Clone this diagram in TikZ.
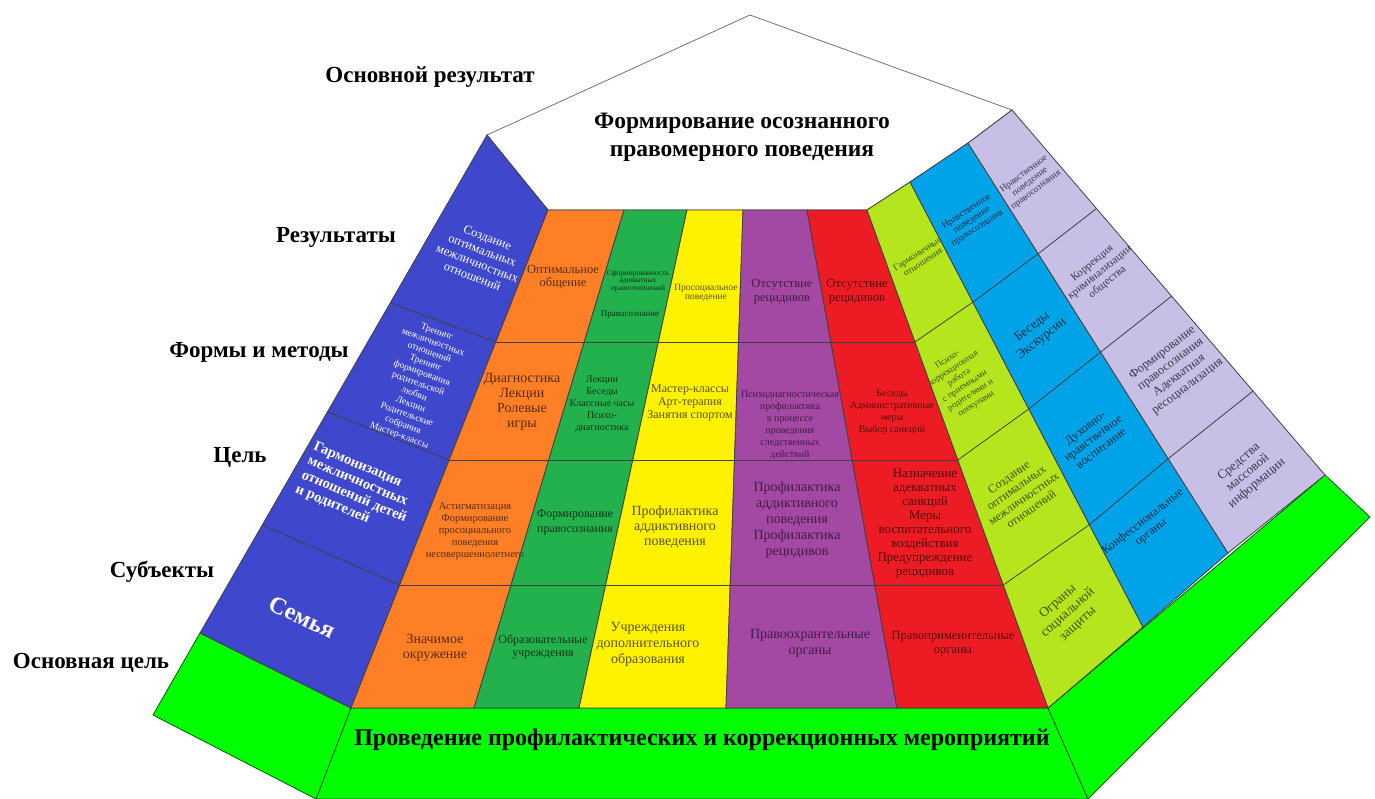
\documentclass[tikz,border=0pt]{standalone}
\usepackage{fontspec}
\setmainfont{Liberation Serif}
\usetikzlibrary{calc}

\definecolor{wallblue}{HTML}{3F48CC}
\definecolor{orng}{HTML}{FF7F27}
\definecolor{grn}{HTML}{22B14C}
\definecolor{yel}{HTML}{FFF200}
\definecolor{purp}{HTML}{A349A4}
\definecolor{rd}{HTML}{ED1C24}
\definecolor{lime}{HTML}{B5E61D}
\definecolor{sky}{HTML}{00A2E8}
\definecolor{lav}{HTML}{C8BFE7}
\definecolor{basegreen}{HTML}{00FF00}
\colorlet{orTxt}{orng!35!black}
\colorlet{grTxt}{grn!30!black}
\colorlet{yeTxt}{yel!35!black}
\colorlet{puTxt}{purp!40!black}
\colorlet{rdTxt}{rd!35!black}
\colorlet{liTxt}{lime!35!black}
\colorlet{skTxt}{sky!30!black}
\colorlet{lvTxt}{lav!30!black}

\newcommand{\fsz}[2]{\fontsize{#1}{#2}\selectfont}

\tikzset{
  cell/.style={draw=black!75, line width=0.8pt},
  basepart/.style={draw=green!35!black, line width=0.8pt, fill=basegreen},
  ctext/.style={align=center, inner sep=0pt},
  walltext/.style={ctext, text=white},
  lbl/.style={inner sep=0pt, font=\bfseries\fsz{23}{26}}
}

\begin{document}
\begin{tikzpicture}[x=1pt, y=-1pt]
  \useasboundingbox (0,0) rectangle (1375,799);
  \clip (0,0) rectangle (1375,799);

  % Corner points
  \coordinate (apex) at (750,15);
  \coordinate (lw0) at (487,135);
  \coordinate (lw4) at (200,633);
  \coordinate (cT0) at (548,210);
  \coordinate (cT1) at (624,210);
  \coordinate (cT2) at (687,210);
  \coordinate (cT3) at (743,210);
  \coordinate (cT4) at (807,210);
  \coordinate (cT5) at (867,210);
  \coordinate (cB0) at (351,708);
  \coordinate (cB1) at (474,708);
  \coordinate (cB2) at (579,708);
  \coordinate (cB3) at (726,708);
  \coordinate (cB4) at (897,708);
  \coordinate (cB5) at (1048,708);
  \coordinate (rT1) at (910,182);
  \coordinate (rT2) at (968,143);
  \coordinate (rT3) at (1012,110);
  \coordinate (rB1) at (1143,627);
  \coordinate (rB2) at (1228,553);
  \coordinate (rB3) at (1325,475);

  % Green base
  \draw[basepart] (cB0) -- (cB5) -- (1088,799) -- (316,799) -- cycle;
  \draw[basepart] (lw4) -- (cB0) -- (316,799) -- (153,715) -- cycle;
  \draw[basepart] (cB5) -- (rB3) -- (1370,517) -- (1088,799) -- cycle;

  % Top pentagon
  \draw[black!55, line width=0.8pt, fill=white] (lw0) -- (apex) -- (rT3) -- (rT2) -- (rT1) -- (cT5) -- (cT0) -- cycle;

  % Left wall
  \draw[cell, fill=wallblue] (lw0) -- (cT0) -- (cB0) -- (lw4) -- cycle;
  \draw[cell] ($(lw0)!.337!(lw4)$) -- ($(cT0)!.265!(cB0)$);
  \draw[cell] ($(lw0)!.556!(lw4)$) -- ($(cT0)!.502!(cB0)$);
  \draw[cell] ($(lw0)!.783!(lw4)$) -- ($(cT0)!.753!(cB0)$);

  % Middle columns
  \draw[cell, fill=orng] (cT0) -- (cT1) -- (cB1) -- (cB0) -- cycle;
  \draw[cell, fill=grn] (cT1) -- (cT2) -- (cB2) -- (cB1) -- cycle;
  \draw[cell, fill=yel] (cT2) -- (cT3) -- (cB3) -- (cB2) -- cycle;
  \draw[cell, fill=purp] (cT3) -- (cT4) -- (cB4) -- (cB3) -- cycle;
  \draw[cell, fill=rd] (cT4) -- (cT5) -- (cB5) -- (cB4) -- cycle;
  \foreach \t in {.265,.502,.753}
    \draw[cell] ($(cT0)!\t!(cB0)$) -- ($(cT5)!\t!(cB5)$);

  % Right walls
  \draw[cell, fill=lime] (cT5) -- (rT1) -- (rB1) -- (cB5) -- cycle;
  \draw[cell, fill=sky] (rT1) -- (rT2) -- (rB2) -- (rB1) -- cycle;
  \draw[cell, fill=lav] (rT2) -- (rT3) -- (rB3) -- (rB2) -- cycle;
  \foreach \a/\b in {.265/.27, .502/.51, .753/.77}
    \draw[cell] ($(cT5)!\a!(cB5)$) -- ($(rT1)!\b!(rB1)$) -- ($(rT2)!\b!(rB2)$) -- ($(rT3)!\b!(rB3)$);

  % Left wall texts
  \node[walltext, rotate=-21, font=\fsz{12.5}{14}] (wallRes) at (480,257) {Создание\\оптимальных\\межличностных\\отношений};
  \node[walltext, rotate=-20, font=\fsz{9.5}{11}] (wallFrm) at (418,384) {Тренинг\\межличностных\\отношений\\Тренинг\\формирования\\родительской\\любви\\Лекции\\Родительские\\собрания\\Мастер-классы};
  \node[walltext, rotate=-23, align=left, font=\bfseries\fsz{14.5}{15.5}] (wallGoal) at (357,490) {Гармонизация\\межличностных\\отношений детей\\и родителей};
  \node[walltext, rotate=-25, font=\bfseries\fsz{24}{26}] (wallSubj) at (302,617) {Семья};

  % Results row
  \node[ctext, text=orTxt, font=\fsz{12.5}{13.5}] (resOrng) at (563,277) {Оптимальное\\общение};
  \node[ctext, text=grTxt, font=\fsz{7.5}{7.5}] (resGrnA) at (638,281) {Сформированность\\адекватных\\правоотношений};
  \node[ctext, text=grTxt, font=\fsz{9}{9}] (resGrnB) at (630,315) {Правосознание};
  \node[ctext, text=yeTxt, font=\fsz{9.5}{9.5}] (resYel) at (706,293) {Просоциальное\\поведение};
  \node[ctext, text=puTxt, font=\fsz{12.5}{14}] (resPurp) at (782,292) {Отсутствие\\рецидивов};
  \node[ctext, text=rdTxt, font=\fsz{12.5}{14}] (resRed) at (857,292) {Отсутствие\\рецидивов};

  % Forms and methods row
  \node[ctext, text=orTxt, font=\fsz{14}{15}] (frmOrng) at (522,402) {Диагностика\\Лекции\\Ролевые\\игры};
  \node[ctext, text=grTxt, font=\fsz{10}{12}] (frmGrn) at (602,404) {Лекции\\Беседы\\Классные часы\\Психо-\\диагностика};
  \node[ctext, text=yeTxt, font=\fsz{12}{12.7}] (frmYel) at (690,403) {Мастер-классы\\Арт-терапия\\Занятия спортом};
  \node[ctext, text=puTxt, font=\fsz{10}{12}] (frmPurp) at (790,425) {Психодиагностическая\\профилактика\\в процессе\\проведения\\следственных\\действий};
  \node[ctext, text=rdTxt, font=\fsz{10}{12}] (frmRed) at (892,412) {Беседы\\Административные\\меры\\Выбор санкций};

  % Goal row
  \node[ctext, text=orTxt, font=\fsz{10.5}{12}] (goalOrng) at (475,531) {Астигматизация\\Формирование\\просоциального\\поведения\\несовершеннолетнего};
  \node[ctext, text=grTxt, font=\fsz{12}{15}] (goalGrn) at (575,522) {Формирование\\правосознания};
  \node[ctext, text=yeTxt, font=\fsz{14}{15}] (goalYel) at (675,527) {Профилактика\\аддиктивного\\поведения};
  \node[ctext, text=puTxt, font=\fsz{14}{16}] (goalPurp) at (797,520) {Профилактика\\аддиктивного\\поведения\\Профилактика\\рецидивов};
  \node[ctext, text=rdTxt, font=\fsz{13}{14}] (goalRed) at (925,524) {Назначение\\адекватных\\санкций\\Меры\\воспитательного\\воздействия\\Предупреждение\\рецидивов};

  % Subjects row
  \node[ctext, text=orTxt, font=\fsz{14}{15}] (subjOrng) at (435,648) {Значимое\\окружение};
  \node[ctext, text=grTxt, font=\fsz{12}{12.5}] (subjGrn) at (543,647) {Образовательные\\учреждения};
  \node[ctext, text=yeTxt, font=\fsz{14}{16}] (subjYel) at (648,644) {Учреждения\\дополнительного\\образования};
  \node[ctext, text=puTxt, font=\fsz{14}{16}] (subjPurp) at (810,643) {Правоохрантельные\\органы};
  \node[ctext, text=rdTxt, font=\fsz{12.5}{14}] (subjRed) at (953,644) {Правоприменительные\\органы};

  % Right wall texts
  \node[ctext, text=liTxt, rotate=33, font=\fsz{9.5}{10}] (limeRes) at (920,258) {Гармоничные\\отношения};
  \node[ctext, text=liTxt, rotate=33, font=\fsz{9}{10.5}] (limeFrm) at (962,382) {Психо-\\коррекционная\\работа\\с приемными\\родителями и\\опекунами};
  \node[ctext, text=liTxt, rotate=35, font=\fsz{12}{13}] (limeGoal) at (1020,493) {Создание\\оптимальных\\межличностных\\отношений};
  \node[ctext, text=liTxt, rotate=42, font=\fsz{13.5}{15}] (limeSubj) at (1068,613) {Ограны\\социальной\\защиты};
  \node[ctext, text=skTxt, rotate=33, font=\fsz{9.5}{10}] (skyRes) at (972,220) {Нравственное\\поведение\\правосознания};
  \node[ctext, text=skTxt, rotate=38, font=\fsz{13}{15}] (skyFrm) at (1037,333) {Беседы\\Экскурсии};
  \node[ctext, text=skTxt, rotate=37, font=\fsz{12}{13}] (skyGoal) at (1093,438) {Духовно-\\нравственное\\воспитание};
  \node[ctext, text=skTxt, rotate=38, font=\fsz{12}{13}] (skySubj) at (1147,527) {Конфессиональные\\органы};
  \node[ctext, text=lvTxt, rotate=37, font=\fsz{9.5}{10}] (lavRes) at (1030,182) {Нравственное\\поведение\\правосознания};
  \node[ctext, text=lvTxt, rotate=39, font=\fsz{11}{12}] (lavFrm) at (1100,273) {Коррекция\\криминализации\\общества};
  \node[ctext, text=lvTxt, rotate=37, font=\fsz{12.5}{14}] (lavGoal) at (1175,370) {Формирование\\правосознания\\Адекватная\\ресоциализация};
  \node[ctext, text=lvTxt, rotate=40, font=\fsz{13}{14}] (lavSubj) at (1248,473) {Средства\\массовой\\информации};

  % Titles
  \node[ctext, font=\bfseries\fsz{23.5}{28}] (title) at (742,137) {Формирование осознанного\\правомерного поведения};
  \node[ctext, font=\bfseries\fsz{24}{28}] (baseTitle) at (702,740) {Проведение профилактических и коррекционных мероприятий};

  % Level labels
  \node[lbl] (labMain) at (430,77) {Основной результат};
  \node[lbl] (labRes) at (336,237) {Результаты};
  \node[lbl] (labFrm) at (259,352) {Формы и методы};
  \node[lbl] (labGoal) at (240,457) {Цель};
  \node[lbl] (labSubj) at (162,572) {Субъекты};
  \node[lbl] (labBase) at (91,663) {Основная цель};
\end{tikzpicture}
\end{document}
